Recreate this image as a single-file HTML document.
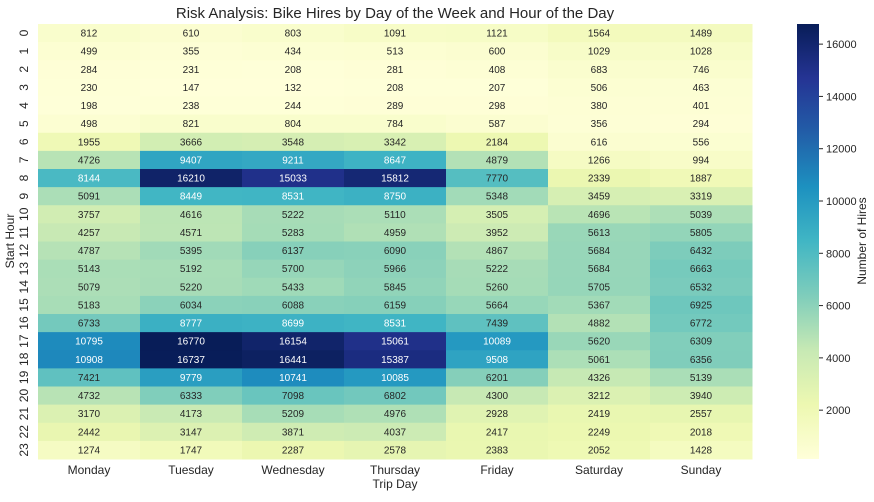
<!DOCTYPE html>
<html><head><meta charset="utf-8"><style>
body{margin:0;background:#fff;font-family:"Liberation Sans",Arial,sans-serif;}
</style></head><body>
<svg id="chart" width="874" height="497" xmlns="http://www.w3.org/2000/svg" font-family="Liberation Sans, Arial, sans-serif">
<defs><linearGradient id="cg" x1="0" y1="1" x2="0" y2="0">
<stop offset="0" stop-color="#ffffd9"/><stop offset="0.125" stop-color="#edf8b1"/><stop offset="0.25" stop-color="#c7e9b4"/><stop offset="0.375" stop-color="#7fcdbb"/><stop offset="0.5" stop-color="#41b6c4"/><stop offset="0.625" stop-color="#1d91c0"/><stop offset="0.75" stop-color="#225ea8"/><stop offset="0.875" stop-color="#253494"/><stop offset="1" stop-color="#081d58"/>
</linearGradient></defs>
<text x="395" y="18" font-size="15" text-anchor="middle" fill="#262626">Risk Analysis: Bike Hires by Day of the Week and Hour of the Day</text>
<g id="cells"></g>
<text x="395" y="488" font-size="12" text-anchor="middle" fill="#262626">Trip Day</text>
<text transform="translate(14,241) rotate(-90)" font-size="12" text-anchor="middle" fill="#262626">Start Hour</text>
<rect x="797" y="24" width="22" height="435" fill="url(#cg)"/>
<g id="cbticks"></g>
<text transform="translate(866,241) rotate(-90)" font-size="12" text-anchor="middle" fill="#262626">Number of Hires</text>
</svg>
<script>
const days=["Monday","Tuesday","Wednesday","Thursday","Friday","Saturday","Sunday"];
const hours=["0","1","2","3","4","5","6","7","8","9","10","11","12","13","14","15","16","17","18","19","20","21","22","23"];
const monday=[812,499,284,230,198,498,1955,4726,8144,5091,3757,4257,4787,5143,5079,5183,6733,10795,10908,7421,4732,3170,2442,1274];
const tuesday=[610,355,231,147,238,821,3666,9407,16210,8449,4616,4571,5395,5192,5220,6034,8777,16770,16737,9779,6333,4173,3147,1747];
const wednesday=[803,434,208,132,244,804,3548,9211,15033,8531,5222,5283,6137,5700,5433,6088,8699,16154,16441,10741,7098,5209,3871,2287];
const thursday=[1091,513,281,208,289,784,3342,8647,15812,8750,5110,4959,6090,5966,5845,6159,8531,15061,15387,10085,6802,4976,4037,2578];
const friday=[1121,600,408,207,298,587,2184,4879,7770,5348,3505,3952,4867,5222,5260,5664,7439,10089,9508,6201,4300,2928,2417,2383];
const saturday=[1564,1029,683,506,380,356,616,1266,2339,3459,4696,5613,5684,5684,5705,5367,4882,5620,5061,4326,3212,2419,2249,2052];
const sunday=[1489,1028,746,463,401,294,556,994,1887,3319,5039,5805,6432,6663,6532,6925,6772,6309,6356,5139,3940,2557,2018,1428];
const cbTicks=[2000,4000,6000,8000,10000,12000,14000,16000];
const series=[monday,tuesday,wednesday,thursday,friday,saturday,sunday];
const NS="http://www.w3.org/2000/svg";
const X0=38,X1=752,Y0=24,Y1=459;
const cw=(X1-X0)/days.length, rh=(Y1-Y0)/hours.length;
const all=series.flat(); const vmin=Math.min(...all), vmax=Math.max(...all);
const stops=["#ffffd9","#edf8b1","#c7e9b4","#7fcdbb","#41b6c4","#1d91c0","#225ea8","#253494","#081d58"].map(h=>[parseInt(h.slice(1,3),16),parseInt(h.slice(3,5),16),parseInt(h.slice(5,7),16)]);
function color(v){let t=(v-vmin)/(vmax-vmin);t=Math.max(0,Math.min(1,t))*(stops.length-1);const i=Math.min(Math.floor(t),stops.length-2),f=t-i;const c=stops[i].map((a,k)=>Math.round(a+(stops[i+1][k]-a)*f));return c;}
function lum(c){const l=c.map(x=>{x/=255;return x<=0.03928?x/12.92:Math.pow((x+0.055)/1.055,2.4)});return 0.2126*l[0]+0.7152*l[1]+0.0722*l[2];}
const g=document.getElementById('cells');
function mk(tag,attrs){const e=document.createElementNS(NS,tag);for(const k in attrs)e.setAttribute(k,attrs[k]);return e;}
series.forEach((s,ci)=>{s.forEach((v,ri)=>{
 const c=color(v);
 const r=mk('rect',{x:X0+ci*cw,y:Y0+ri*rh,width:cw+0.5,height:rh+0.5,fill:`rgb(${c})`});
 
 
 g.appendChild(r);
 const t=mk('text',{x:X0+(ci+0.5)*cw,y:Y0+(ri+0.5)*rh+3.5,'font-size':'10','text-anchor':'middle',fill:lum(c)>0.408?'#262626':'#ffffff'});
 t.textContent=v;
 
 
 g.appendChild(t);
});});
days.forEach((d,i)=>{const t=mk('text',{x:X0+(i+0.5)*cw,y:474,'font-size':'12','text-anchor':'middle',fill:'#262626'});t.textContent=d;
 
 
 g.appendChild(t);});
hours.forEach((h,i)=>{const y=Y0+(i+0.5)*rh;const t=mk('text',{transform:`translate(28,${y}) rotate(-90)`,'font-size':'12','text-anchor':'middle',fill:'#262626'});t.textContent=h;
 
 
 g.appendChild(t);});
const cb=document.getElementById('cbticks');
cbTicks.forEach(v=>{const y=Y1-(v-vmin)/(vmax-vmin)*(Y1-Y0);
 const l=mk('line',{x1:819,x2:823,y1:y,y2:y,stroke:'#262626','stroke-width':1});
 
 
 cb.appendChild(l);
 const t=mk('text',{x:826,y:y+4,'font-size':'11',fill:'#262626'});t.textContent=v;
 
 
 cb.appendChild(t);});
</script>
</body></html>
